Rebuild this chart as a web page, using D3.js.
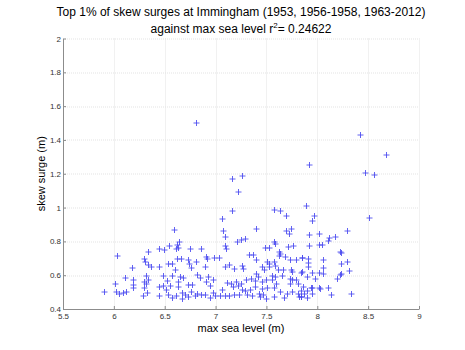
<!DOCTYPE html>
<html>
<head>
<meta charset="utf-8">
<script src="https://cdn.jsdelivr.net/npm/d3@7"></script>
<style>
  html, body { margin: 0; padding: 0; background: #fff; overflow: hidden; }
  svg { display: block; }
  svg text { font-family: "Liberation Sans", Arial, sans-serif; }
</style>
</head>
<body>
<div class="chart"></div>
<script>
const WIDTH = 465;
const HEIGHT = 350;
const MARGIN = {TOP: 38.5, BOTTOM: 41, RIGHT: 46, LEFT: 63};
const innerWidth = WIDTH - MARGIN.LEFT - MARGIN.RIGHT;
const innerHeight = HEIGHT - MARGIN.TOP - MARGIN.BOTTOM;

const xTicks = [5.5, 6, 6.5, 7, 7.5, 8, 8.5, 9];
const yTicks = [0.4, 0.6, 0.8, 1, 1.2, 1.4, 1.6, 1.8, 2];

// max sea level (m)
const seaLevel = [
  6.81, 7.92, 7.16, 7.26, 7.22, 7.16, 7.57, 7.63, 7.69, 7.89, 7.97, 7.06,
  8.42, 8.68, 8.47, 8.56, 8.51, 8.29, 8.23, 8.23, 8.29, 8.31, 8.23, 8.33,
  7.95, 7.92, 8.02, 8.11, 8.12, 8.17, 7.92, 8.02, 8.05, 8.22, 7.85, 7.91,
  7.91, 8.06, 7.91, 8.06, 7.84, 7.90, 7.95, 7.98, 8.02, 8.06, 8.22, 8.19,
  7.84, 7.90, 7.94, 7.95, 8.02, 8.03, 8.11, 7.95, 8.13, 7.87, 7.90, 7.84,
  7.69, 7.72, 7.74, 7.57, 7.58, 7.49, 7.53, 7.71, 7.76, 7.62, 7.63, 7.62,
  7.68, 7.73, 7.79, 7.85, 7.51, 7.53, 7.57, 7.53, 7.58, 7.61, 7.66, 7.74,
  7.46, 7.48, 7.75, 7.85, 7.55, 7.58, 7.65, 7.73, 7.75, 7.79, 7.46, 7.50,
  7.55, 7.59, 7.73, 7.81, 7.86, 7.46, 7.51, 7.57, 7.63, 7.70, 7.75, 7.81,
  7.82, 7.84, 7.44, 7.47, 7.50, 7.57, 7.67,
  7.07, 7.40, 6.64, 7.09, 7.21, 7.25, 7.29, 6.63, 6.75, 6.86, 7.09, 7.10,
  6.62, 6.66, 6.73, 6.81, 6.91, 6.92, 6.98, 7.03, 7.33, 7.37, 7.40, 6.74,
  6.76, 6.90, 7.09, 7.13, 7.18, 7.26, 7.27, 6.60, 6.65, 6.68, 6.82, 6.85,
  6.93, 6.97, 7.40, 7.42, 6.63, 6.73, 6.77, 6.91, 6.95, 7.11, 7.15, 7.20,
  7.22, 7.25, 7.30, 7.35, 7.39, 6.63, 6.67, 6.76, 6.82, 6.86, 6.97, 7.06,
  7.17, 7.26, 7.29, 7.34, 7.39, 6.80, 6.90, 6.99, 7.04, 7.09, 7.13, 7.18,
  7.23, 7.31, 7.36, 7.43, 6.67, 6.73, 6.70, 6.95,
  6.59, 6.03, 6.34, 6.44, 6.49, 6.54, 6.61, 6.30, 6.31, 6.34, 6.37, 6.44,
  6.53, 6.57, 6.18, 6.48, 6.57, 6.11, 6.19, 6.32, 6.34, 6.30, 6.32, 6.52,
  6.01, 6.19, 6.19, 6.44, 6.48, 6.55, 6.51, 6.30, 5.90, 6.02, 6.05, 6.09,
  6.12, 6.29, 6.33, 6.44, 6.53, 6.57, 6.61, 6.62
];

// skew surge (m)
const skewSurge = [
  1.504, 1.256, 1.173, 1.187, 1.094, 0.984, 0.988, 0.980, 0.956, 1.010, 0.956, 0.934,
  1.430, 1.311, 1.209, 1.197, 0.940, 0.863, 0.735, 0.670, 0.680, 0.630, 0.610, 0.490,
  0.922, 0.838, 0.848, 0.804, 0.822, 0.826, 0.773, 0.783, 0.783, 0.739, 0.704, 0.700,
  0.674, 0.690, 0.650, 0.647, 0.614, 0.591, 0.615, 0.582, 0.615, 0.610, 0.607, 0.582,
  0.510, 0.508, 0.528, 0.528, 0.526, 0.520, 0.528, 0.493, 0.487, 0.493, 0.469, 0.473,
  0.863, 0.848, 0.875, 0.798, 0.789, 0.765, 0.765, 0.769, 0.773, 0.739, 0.729, 0.714,
  0.709, 0.694, 0.694, 0.706, 0.680, 0.670, 0.680, 0.650, 0.660, 0.635, 0.635, 0.631,
  0.650, 0.631, 0.621, 0.621, 0.601, 0.595, 0.601, 0.582, 0.572, 0.572, 0.561, 0.572,
  0.572, 0.552, 0.552, 0.552, 0.532, 0.522, 0.528, 0.528, 0.502, 0.489, 0.502, 0.493,
  0.473, 0.473, 0.473, 0.483, 0.463, 0.473, 0.469,
  0.862, 0.877, 0.800, 0.828, 0.800, 0.814, 0.818, 0.763, 0.755, 0.759, 0.775, 0.759,
  0.700, 0.696, 0.690, 0.680, 0.709, 0.700, 0.704, 0.706, 0.724, 0.724, 0.690, 0.670,
  0.644, 0.650, 0.650, 0.664, 0.637, 0.660, 0.641, 0.631, 0.591, 0.585, 0.605, 0.585,
  0.591, 0.577, 0.611, 0.591, 0.561, 0.546, 0.542, 0.561, 0.538, 0.558, 0.552, 0.561,
  0.538, 0.552, 0.572, 0.582, 0.566, 0.532, 0.499, 0.506, 0.493, 0.483, 0.499, 0.518,
  0.532, 0.518, 0.512, 0.518, 0.532, 0.479, 0.487, 0.479, 0.479, 0.479, 0.479, 0.483,
  0.487, 0.483, 0.479, 0.493, 0.463, 0.473, 0.487, 0.467,
  0.873, 0.715, 0.743, 0.755, 0.749, 0.775, 0.759, 0.696, 0.680, 0.664, 0.650, 0.650,
  0.670, 0.670, 0.644, 0.597, 0.601, 0.585, 0.572, 0.601, 0.577, 0.561, 0.552, 0.566,
  0.552, 0.542, 0.526, 0.532, 0.538, 0.538, 0.518, 0.526, 0.506, 0.506, 0.493, 0.499,
  0.506, 0.479, 0.499, 0.479, 0.483, 0.467, 0.479, 0.779
];

const points = seaLevel.map((x, i) => ({x: x, y: skewSurge[i]}));

var xScale = d3.scaleLinear().range([0, innerWidth]).domain([5.5, 9]);
var yScale = d3.scaleLinear().range([innerHeight, 0]).domain([0.4, 2]);

var svg = d3.select('.chart').append('svg')
    .attr('width', WIDTH)
    .attr('height', HEIGHT);

var mainGroup = svg.append('g')
    .attr('transform', 'translate(' + MARGIN.LEFT + ',' + MARGIN.TOP + ')');

// grid
var grid = mainGroup.append('g')
    .attr('stroke', '#e3e3e3')
    .attr('stroke-width', 1)
    .attr('stroke-dasharray', '1,1');

grid.selectAll('.vgrid')
    .data(xTicks.slice(1))
    .enter().append('line')
    .attr('x1', d => Math.round(xScale(d)) + 0.5)
    .attr('x2', d => Math.round(xScale(d)) + 0.5)
    .attr('y1', 0)
    .attr('y2', innerHeight);

grid.selectAll('.hgrid')
    .data(yTicks.slice(1))
    .enter().append('line')
    .attr('x1', 0)
    .attr('x2', innerWidth)
    .attr('y1', d => Math.round(yScale(d)) + 0.5)
    .attr('y2', d => Math.round(yScale(d)) + 0.5);

var xAxis = d3.axisBottom(xScale)
    .tickValues(xTicks)
    .tickFormat(d3.format('~g'))
    .tickSizeInner(-3)
    .tickSizeOuter(0)
    .tickPadding(5);

var yAxis = d3.axisLeft(yScale)
    .tickValues(yTicks)
    .tickFormat(d3.format('~g'))
    .tickSizeInner(-3)
    .tickSizeOuter(0)
    .tickPadding(2);

var xAxisG = mainGroup.append('g')
    .attr('transform', 'translate(0,' + innerHeight + ')')
    .call(xAxis);

var yAxisG = mainGroup.append('g')
    .call(yAxis);

[xAxisG, yAxisG].forEach(function (g) {
    g.select('.domain').attr('stroke', '#8c8c8c');
    g.selectAll('.tick line').attr('stroke', '#8c8c8c');
    g.selectAll('.tick text')
        .attr('fill', '#333')
        .style('font-size', '8px');
});

xAxisG.selectAll('.tick text').attr('dy', '0.6em');

// markers
var plus = mainGroup.append('g')
    .attr('stroke', '#4848f0')
    .attr('stroke-opacity', 0.85)
    .attr('stroke-width', 1)
    .attr('fill', 'none');

plus.selectAll('path')
    .data(points)
    .enter().append('path')
    .attr('d', function (d) {
        var cx = Math.round(xScale(d.x)) + 0.5;
        var cy = Math.round(yScale(d.y)) + 0.5;
        return 'M' + (cx - 3) + ',' + cy + 'H' + (cx + 3) +
               'M' + cx + ',' + (cy - 3) + 'V' + (cy + 3);
    });

// titles
var cx = MARGIN.LEFT + innerWidth / 2;
svg.append('text')
    .attr('x', cx)
    .attr('y', 16)
    .attr('text-anchor', 'middle')
    .style('font-size', '12px')
    .text('Top 1% of skew surges at Immingham (1953, 1956-1958, 1963-2012)');

var t2 = svg.append('text')
    .attr('x', cx)
    .attr('y', 33)
    .attr('text-anchor', 'middle')
    .style('font-size', '12px');
t2.append('tspan').text('against max sea level r');
t2.append('tspan').attr('dy', -5).style('font-size', '8px').text('2');
t2.append('tspan').attr('dy', 5).text('= 0.24622');

svg.append('text')
    .attr('x', cx)
    .attr('y', 332)
    .attr('text-anchor', 'middle')
    .style('font-size', '11px')
    .text('max sea level (m)');

svg.append('text')
    .attr('transform', 'translate(45,' + (MARGIN.TOP + innerHeight / 2) + ') rotate(-90)')
    .attr('text-anchor', 'middle')
    .style('font-size', '11px')
    .text('skew surge (m)');
</script>
</body>
</html>
